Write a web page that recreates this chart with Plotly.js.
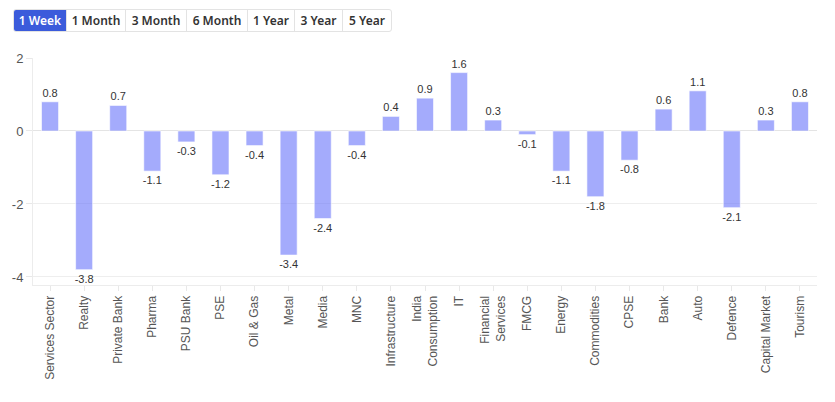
<!DOCTYPE html>
<html>
<head>
<meta charset="utf-8">
<script src="https://cdn.plot.ly/plotly-3.0.1.min.js"></script>
<style>
  html, body { margin: 0; padding: 0; background: #fff; width: 835px; height: 402px; overflow: hidden; }
  #btns { position: absolute; left: 13px; top: 9px; display: flex; height: 23px; border: 1px solid #e3e3e3; border-radius: 3px; box-sizing: border-box; overflow: hidden; background: #fff; z-index: 2; }
  #btns div { font-family: "Noto Sans", "Open Sans", sans-serif; font-size: 12px; font-weight: 600; color: #333; display: flex; align-items: center; justify-content: center; border-right: 1px solid #e3e3e3; box-sizing: border-box; height: 100%; }
  #btns div:last-child { border-right: none; }
  #btns div.active { background: #3b5bdb; color: #fff; }
  #chart { position: absolute; left: 0; top: 0; width: 835px; height: 402px; }
</style>
</head>
<body>
<div id="chart"></div>
<div id="btns"></div>
<script>
const periods = ["1 Week", "1 Month", "3 Month", "6 Month", "1 Year", "3 Year", "5 Year"];
const periodWidths = [53, 59, 61, 61, 47, 48, 48];
const sectors = ["Services Sector", "Realty", "Private Bank", "Pharma", "PSU Bank", "PSE", "Oil & Gas", "Metal", "Media", "MNC", "Infrastructure", "India<br>Consumption", "IT", "Financial<br>Services", "FMCG", "Energy", "Commodities", "CPSE", "Bank", "Auto", "Defence", "Capital Market", "Tourism"];
const returns = [0.8, -3.8, 0.7, -1.1, -0.3, -1.2, -0.4, -3.4, -2.4, -0.4, 0.4, 0.9, 1.6, 0.3, -0.1, -1.1, -1.8, -0.8, 0.6, 1.1, -2.1, 0.3, 0.8];
const yTicks = [-4, -2, 0, 2];
const yTickLabels = ["-4", "-2", "0", "2"];

const btns = document.getElementById('btns');
periods.forEach((p, i) => {
  const d = document.createElement('div');
  d.textContent = p;
  d.style.width = periodWidths[i] + 'px';
  if (i === 0) d.className = 'active';
  btns.appendChild(d);
});

const trace = {
  type: 'bar',
  x: sectors,
  y: returns,
  text: returns.map(v => v.toFixed(1)),
  textposition: 'outside',
  constraintext: 'none',
  cliponaxis: false,
  textfont: { family: 'Liberation Sans, Arial, sans-serif', size: 11, color: '#333' },
  marker: { color: 'rgba(99,110,250,0.58)', line: { color: 'rgba(255,255,255,0.6)', width: 1 } },
  hoverinfo: 'x+y'
};

const layout = {
  width: 835, height: 402,
  margin: { l: 33, r: 18, t: 58, b: 117 },
  paper_bgcolor: '#fff', plot_bgcolor: '#fff',
  bargap: 0.5,
  showlegend: false,
  font: { family: 'Liberation Sans, Arial, sans-serif', size: 12, color: '#555' },
  xaxis: {
    type: 'category',
    tickangle: -90,
    ticks: 'outside', ticklen: 5, tickcolor: '#e8e8e8',
    showline: true, linecolor: '#ececec', linewidth: 1,
    showgrid: false,
    tickfont: { size: 12, color: '#555' }
  },
  yaxis: {
    range: [-4.22, 2],
    tickvals: yTicks,
    ticktext: yTickLabels,
    ticks: 'outside', ticklen: 6, tickcolor: '#e8e8e8',
    showline: true, linecolor: '#ececec', linewidth: 1,
    gridcolor: '#eeeeee', zeroline: true, zerolinecolor: '#e4e4e4', zerolinewidth: 1,
    tickfont: { size: 13, color: '#555' }
  }
};

Plotly.newPlot('chart', [trace], layout, { displayModeBar: false, responsive: false });
</script>
</body>
</html>
